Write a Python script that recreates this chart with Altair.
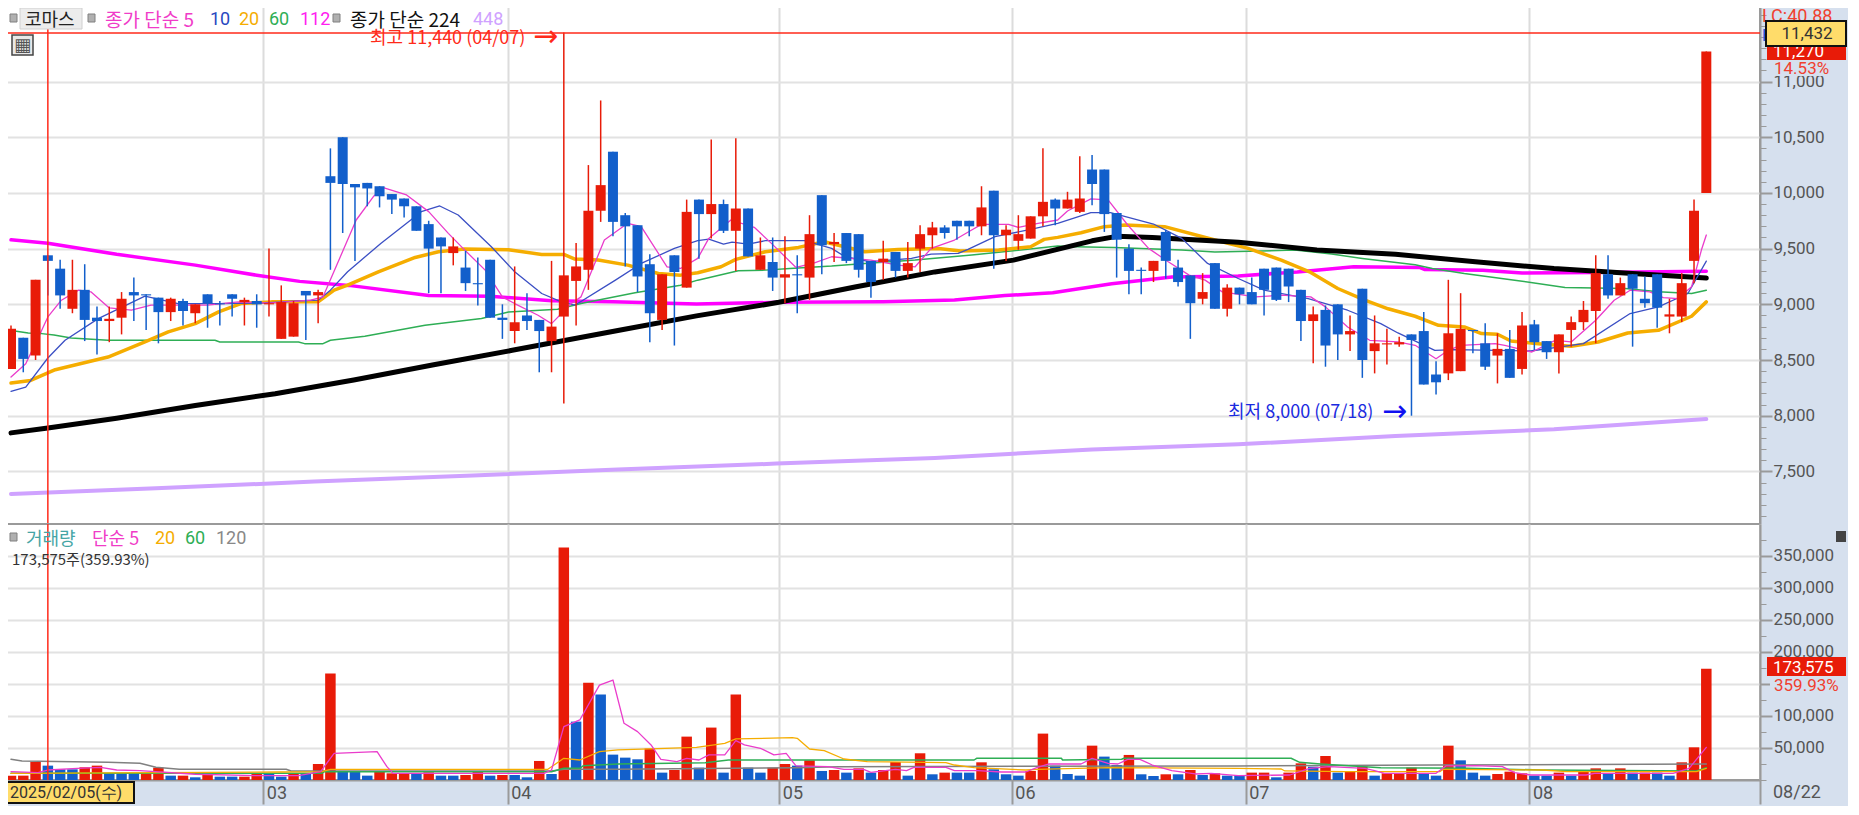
import altair as alt
import pandas as pd

opens = [8420,8700,8540,9440,9320,8960,9130,8880,8850,8880,9110,9090,9060,8930,9030,8920,9090,9010,9090,9020,9030,9000,8690,8710,9120,9080,
10150,10500,10080,10090,10060,9990,9950,9880,9720,9600,9460,9330,9190,9400,8880,8760,8900,8860,8670,8890,9210,9310,9840,10370,9800,9710,9360,8860,9440,9150,
9940,9810,9900,9660,9860,9310,9380,9240,9270,9240,9980,9540,9640,9630,9390,9380,9470,9300,9500,9620,9690,9750,9750,9700,10020,9620,9570,9590,9790,9940,
9860,9830,10210,10210,9820,9500,9310,9300,9650,9330,9260,9050,9370,8960,9150,9110,9320,9330,9320,9130,8850,8950,9000,8730,9140,8580,8640,8640,
8730,8760,8370,8380,8400,8770,8650,8540,8600,8420,8820,8670,8570,8770,8840,8940,9270,9080,9270,9050,9270,8890,8890,9390,10000]
closes = [8780,8510,9220,9390,9080,9130,8860,8850,8870,9050,9080,9080,8930,9050,8940,9000,9010,9000,9050,9040,9000,9010,9020,9010,9080,9110,
10090,10080,10050,10040,9970,9940,9880,9660,9500,9520,9520,9190,9180,8880,8860,8840,8850,8760,8800,9260,9340,9840,10070,9740,9700,9250,8920,9270,9290,9830,
9810,9900,9660,9860,9430,9440,9240,9270,9260,9630,9530,9560,9390,9310,9200,9410,9300,9370,9630,9690,9640,9700,9700,9870,9620,9670,9630,9790,9920,9860,
9940,9950,10080,9810,9580,9300,9300,9390,9390,9200,9010,9110,8960,9150,9090,9000,9130,9040,9160,8850,8910,8630,8730,8760,8500,8650,8650,8660,
8680,8280,8300,8740,8780,8760,8440,8600,8340,8810,8660,8570,8730,8840,8950,9280,9080,9190,9140,9010,8970,8910,9190,9840,11270]
highs = [8810,8700,9220,9440,9400,9400,9360,8980,8980,9110,9240,9090,9060,9060,9050,9000,9090,9030,9090,9060,9090,9500,9170,9030,9120,9130,
10400,10500,10080,10090,10060,9990,9950,9880,9750,9600,9600,9480,9420,9400,9000,9340,9100,8860,9390,11440,9550,10250,10830,10370,9820,9710,9450,9270,9440,9940,
9940,10480,9940,10490,9860,9600,9600,9610,9440,9800,9980,9640,9640,9630,9390,9570,9470,9560,9710,9740,9710,9750,9750,10060,10020,9710,9800,9790,10400,9950,
10010,10330,10340,10210,9820,9540,9330,9390,9670,9400,9260,9280,9370,9180,9150,9240,9320,9330,9320,9130,8980,8990,9000,8900,9140,8900,8780,8710,
8730,8930,8490,9220,9100,8770,8830,8740,8770,8930,8860,8670,8730,8890,9030,9440,9440,9240,9270,9250,9270,9050,9280,9940,11270]
lows = [8420,8390,8500,9080,8960,8920,8670,8550,8660,8730,8850,8770,8650,8850,8810,8830,8790,8810,8890,8810,8790,8890,8690,8710,8680,8830,
9310,9640,9390,9880,9870,9810,9780,9660,9100,9100,9350,9120,8990,8880,8690,8650,8770,8390,8390,8110,8810,9130,9740,9610,9340,9110,8660,8770,8630,9150,
9410,9590,9640,9300,9430,9310,9120,9010,8920,9040,9270,9380,9370,9240,9060,9220,9240,9240,9290,9500,9590,9580,9610,9620,9320,9390,9490,9590,9700,9710,
9860,9820,9890,9650,9240,9090,9090,9200,9230,9160,8690,9000,8960,8890,9000,9000,8900,9030,9020,8670,8470,8440,8500,8580,8340,8380,8460,8620,
8000,8280,8190,8320,8400,8560,8410,8290,8340,8370,8590,8510,8380,8620,8770,8650,9050,9080,8620,8970,8790,8740,8840,9190,10000]

volumes = [6800,6800,28100,22400,16700,16700,19800,22400,10400,10400,10400,10400,19300,6800,6800,4200,9400,5200,5200,5200,9400,9400,5200,9400,9400,25000,166100,13000,13000,6800,13000,10400,10400,9400,12000,6800,6800,7800,13000,6800,7800,7800,4200,29700,9400,363000,91100,151600,133300,39600,
34900,32300,49000,11500,15600,67700,19300,81800,11500,133300,19300,11500,19300,25000,22400,30700,14100,15600,11500,18200,11500,15600,28100,6800,41700,8900,11500,11500,11500,27600,16700,8900,6800,14100,72400,22400,9400,6800,53600,36500,23400,39100,8900,6200,8900,8900,15600,7800,10400,6800,
7800,11500,11500,4200,11500,26000,20800,37500,11500,13000,20800,6800,10400,10400,19300,9400,6800,53600,30700,11500,6800,9400,13000,10400,6800,6800,11500,6800,13000,18200,9400,18200,11500,11500,11500,6800,27600,51000,173575]
vol_colors = ["r","r","r","b","b","b","r","r","b","b","b","r","r","b","r","b","r","b","b","r","r","b","b","r","b","r","r","b","b","b","r","r","r","b","r","b","b","r","r","b","r","b","b","r","b","r","b","r","b","b",
"b","b","r","b","r","r","b","r","b","r","b","b","r","r","b","r","b","r","b","r","b","r","r","b","r","b","r","b","b","r","b","b","b","r","r","b","b","b","r","b","b","r","b","b","r","b","r","b","r","b",
"b","r","r","b","r","r","b","r","b","r","r","b","r","r","r","b","b","r","b","b","b","r","r","r","b","b","r","b","r","r","b","r","b","r","b","b","r","r","r"]

ma5_i = [0,1.2,2.5,3,4.1,5.5,6.5,8,9.8,11.4,14,16,18.5,21,24.4,25.4,28.1,29.5,30.3,32.2,34,35.6,36.8,38.6,40,41,42.9,44,45.6,46.4,48.3,50.2,51.3,53.4,54.5,55.9,56.8,58.6,60.5,61.9,63.9,65.4,66.8,70,72.2,73.6,74.9,76.8,78.2,79,81.2,82,83.6,85.2,86,87.9,89.3,90.9,92.6,94.2,95.9,97.2,98.6,101.3,103.4,105.8,107,108.8,110.6,112.9,114.3,116,117,118,120.8,121.6,123.8,125.7,127,129,130.5,131.8,133.4,134.5,135.7,136.8,137.6,138]
ma5_v = [8347,8467,8767,8887,9037,9127,9112,8968,8947,8992,8992,8992,9022,9010,9037,9067,9757,9967,10048,9982,9832,9637,9502,9307,9067,9007,8902,8827,9007,9067,9577,9727,9697,9337,9322,9412,9592,9757,9691,9547,9331,9373,9427,9397,9352,9337,9502,9577,9667,9718,9718,9691,9727,9757,9838,9946,9937,9712,9502,9382,9262,9217,9112,9067,9082,9067,8977,8797,8677,8662,8632,8512,8587,8632,8647,8632,8572,8677,8662,8857,9037,9127,9112,9061,9052,9157,9487,9622]
ma10_i = [0,1.2,3,4.4,7.1,10.9,13.6,16.9,20.7,23.4,25,26,27.4,30.1,33.4,34.9,36.4,39.1,41,43.2,44.8,45.9,49.2,51.3,54,55.9,56.8,58,58.7,60,61.4,64.6,66.8,67.9,70,73.3,74.9,77.1,77.9,80.1,83,85.2,87.9,89.5,93,95.3,97.4,99.9,102,105.6,108.8,111.5,112.9,115.9,117.5,123.7,128,131.8,134.1,136.5,138]
ma10_v = [8218,8257,8518,8677,8872,9073,9007,9007,9013,9031,9037,9127,9292,9547,9832,9883,9802,9517,9292,9097,9022,8992,9217,9367,9502,9571,9586,9541,9559,9541,9571,9571,9502,9427,9382,9412,9451,9457,9493,9607,9673,9727,9823,9823,9721,9592,9367,9232,9127,9052,8947,8827,8743,8587,8593,8581,8647,8917,8977,9097,9388]
ma20_i = [0,1.6,3.6,7.9,10.9,12.8,15,16.9,18.7,21.2,25,26.3,27.4,29.9,32.9,34.8,36.9,40.5,43.2,45,45.9,47.8,50.2,52.7,54.5,55.9,57.8,59,61.4,64.1,66.2,69.5,72.2,75.5,77.3,80.4,83,84.1,85.2,87.1,89,90.7,93.9,98,100.7,103.4,105.8,108,110.2,112.1,114.3,116.2,118.3,119.7,121,122.1,124.3,127,129.2,131.6,134.1,136.8,138]
ma20_v = [8293,8317,8413,8527,8662,8752,8827,8932,9007,9022,9022,9127,9172,9292,9421,9472,9496,9490,9448,9448,9406,9397,9352,9277,9262,9283,9337,9403,9472,9511,9562,9472,9493,9502,9478,9487,9517,9583,9601,9643,9697,9712,9697,9577,9502,9397,9286,9142,9037,8960,8893,8812,8797,8737,8731,8671,8647,8623,8662,8743,8767,8893,9022]
ma60_i = [0.3,1.4,2.5,3.5,4.9,7.9,16.6,17,23.4,23.9,25.4,26,28.8,33.7,38.3,40.5,44.5,46.4,50.8,54.5,55.9,59.2,61.4,63.4,66.8,69.5,73.6,78.2,81.4,85.2,86.6,89.8,95.3,98,104.5,107.5,110,114.3,115.7,118.3,122.4,126.5,131.4,134.1,136.8,138]
ma60_v = [8761,8743,8737,8725,8698,8677,8677,8662,8662,8647,8647,8677,8713,8812,8872,8932,8956,9007,9103,9172,9217,9301,9307,9322,9343,9367,9397,9442,9478,9523,9517,9511,9487,9469,9487,9451,9412,9355,9322,9277,9217,9151,9142,9112,9097,9127]
ma112_i = [0,3,8.6,15,20,23.5,27.5,34,39,44,49,55.8,62.5,71,76.8,80.9,84.8,89.6,94.5,99.9,104.7,109.3,114.7,115.1,119.8,123,128.8,138]
ma112_v = [9579,9549,9449,9352,9261,9206,9170,9079,9072,9033,9024,9003,9018,9024,9039,9079,9103,9185,9246,9255,9291,9337,9330,9312,9306,9282,9285,9297]
ma224_i = [0,3,8.6,15,21.5,27.9,34.3,40.8,49.4,55.8,62.5,68.7,75.2,81.6,88,90,92.9,99.9,106.3,112.7,119.2,125.6,132,138]
ma224_v = [7846,7889,7977,8092,8198,8320,8456,8587,8765,8896,9018,9155,9291,9397,9570,9610,9600,9558,9488,9449,9382,9321,9276,9236]
ma448_i = [0,11.8,24.7,37.6,49.4,62.3,75.2,88,99.9,112.7,125.6,138]
ma448_v = [7297,7348,7409,7464,7518,7570,7621,7697,7743,7819,7879,7970]

vma5_i = [0,2.2,3,5.4,7.3,8.6,10.5,15,20,23.4,25.2,26.3,29.8,30.6,31.1,43.4,44,45,46.3,47.9,49,49.9,51,52.1,52.9,54.2,55,56,56.8,58.1,59,59.7,61,62.1,63.1,63.9,66.5,67.8,69.4,70,72,72.9,73.5,76.1,76.8,78.7,80.6,82.6,83.5,84.5,87.1,88,89.3,90.1,90.9,91.9,92.9,94.5,96.4,97.7,99.9,104.1,105.7,107.3,110.2,111,111.8,116,116.8,119.2,121.4,122.4,123.7,128.2,128.9,135.3,136.6,138]
vma5_v = [13000,11500,15600,18200,19800,15600,14600,9000,6800,6800,13000,41700,44300,20800,10400,10400,15600,83300,93700,148000,156000,88500,75500,54700,32300,28600,33900,31200,39100,39100,61500,54700,49500,39100,41700,21900,20800,16700,16700,12000,16700,14600,19800,19800,14600,14600,12500,12500,19300,25000,25000,33900,26000,25000,32300,32300,23400,14600,9400,10400,6800,7800,18200,20800,18200,14600,10400,10400,21900,22400,20800,11500,7800,7800,10400,10400,18200,51000]
vma20_i = [0,22,25.3,26,43.7,45,46.3,47.9,49.4,55.8,58.1,59,63.6,64,65,66.2,67.8,69.7,76.1,76.8,78.4,82.6,83.5,89.3,99.9,103.4,103.7,108.6,116.3,116.6,124.7,126.6,137.2,138]
vma20_v = [10400,12500,13000,16700,16700,33900,31200,44300,46900,51000,57300,64100,66100,65100,48400,45800,32800,28600,27100,23400,19300,15600,16700,19300,18200,17200,14100,13000,13000,16700,15600,13000,13000,18200]
vma60_i = [0,25.3,25.5,44,45,46.3,46.6,49.4,56.5,58.4,78.4,78.6,85.5,85.6,90.4,90.6,104.2,104.9,106.6,111.5,118.5,124.7,137.2,138]
vma60_v = [10400,10400,13000,13000,18200,18200,22400,25000,27100,31200,31200,33900,33900,31200,32300,33900,33900,27600,25000,19300,18200,15600,14100,19300]
vma120_i = [0,0.9,7.9,10.5,11.8,13.7,22.4,22.8,44,45,49.4,63.9,67.4,99.9,116,138]
vma120_v = [32300,29700,27600,26000,19800,16700,16700,14100,14100,16700,16700,19300,20800,21900,23400,25000]

month_pos = [20.54,40.43,62.54,81.47,100.5,123.6,142.37]
month_lab = ["03","04","05","06","07","08",""]
price_ticks = [7500,8000,8500,9000,9500,10000,10500,11000]
price_minor = list(range(7100,11700,100))
vol_ticks = [50000,100000,150000,200000,250000,300000,350000]
vol_minor = list(range(0,400000,25000))

RED="#e81b08"; BLUE="#125fcb"; KR="Noto Sans CJK KR"; NUM="Roboto"
STRIP="#d6e0ee"; GRID="#e2e2e2"; AX="#9a9a9a"
XD=[-0.407,142.37]
xs=alt.Scale(domain=XD,nice=False,zero=False,padding=0)
W=1754; H1=518; H2=256
RIGHT=1848

n=len(opens)
cand=pd.DataFrame({"i":range(n),"o":opens,"c":closes,"h":highs,"l":lows})
cand["col"]=["r" if c>=o else "b" for o,c in zip(opens,closes)]
vol=pd.DataFrame({"i":range(n),"v":volumes,"col":vol_colors})
cs=alt.Scale(domain=["r","b"],range=[RED,BLUE])
mlabs="{"+",".join(f"'{p}':'{l}'" for p,l in zip(month_pos,month_lab))+"}"
LBL="format(datum.value,',')"

def line(ii,vv,color,w,ys):
    d=pd.DataFrame({"i":ii,"v":vv})
    return alt.Chart(d).mark_line(color=color,strokeWidth=w,strokeCap="round",strokeJoin="round").encode(
        x=alt.X("i:Q",scale=xs,axis=None),y=alt.Y("v:Q",scale=ys,axis=None))

def txt(s,x,y,color,size=17,ox=0,font=KR,align="left",weight="normal"):
    dy=2.5 if font==KR else 1.5
    return alt.Chart(pd.DataFrame({"t":[s]})).mark_text(align=align,baseline="middle",color=color,fontSize=size,font=font,fontWeight=weight,clip=False).encode(
        x=alt.value(x-8),y=alt.value(y-ox+dy),text="t:N")

def box(x1,y1,x2,y2,fill,ox=0,stroke=None,sw=0):
    kw=dict(fill=fill,clip=False)
    if stroke: kw.update(stroke=stroke,strokeWidth=sw)
    return alt.Chart(pd.DataFrame({"t":[0]})).mark_rect(**kw).encode(
        x=alt.value(x1-8),x2=alt.value(x2-8),y=alt.value(y1-ox),y2=alt.value(y2-ox))

# ---------- price panel
ys1=alt.Scale(domain=[7028,11678],nice=False,zero=False,padding=0)
OX1=8
grid_x=alt.Axis(values=month_pos[:-1],grid=True,gridColor="#dcdcdc",gridWidth=2,labels=False,ticks=False,domain=False,title=None)
major=alt.Axis(orient="right",values=price_ticks,grid=True,gridColor=GRID,gridWidth=2,tickSize=12,tickColor=AX,tickWidth=2,
    labelFontSize=17,labelFont=NUM,labelColor="#555",labelPadding=1,labelExpr=LBL,domain=True,domainColor=AX,domainWidth=2,title=None)
minor=alt.Axis(orient="right",values=price_minor,grid=False,tickSize=6,tickColor=AX,tickWidth=1,labels=False,domain=False,title=None)

axis_layer=alt.Chart(cand).mark_point(opacity=0).encode(x=alt.X("i:Q",scale=xs,axis=grid_x),y=alt.Y("c:Q",scale=ys1,axis=major))
minor_layer=alt.Chart(cand).mark_point(opacity=0).encode(x=alt.X("i:Q",scale=xs,axis=None),y=alt.Y("c:Q",scale=ys1,axis=minor))
wick=alt.Chart(cand).mark_rule(strokeWidth=1.5).encode(x=alt.X("i:Q",scale=xs,axis=None),y=alt.Y("l:Q",scale=ys1,axis=None),y2="h:Q",
    color=alt.Color("col:N",scale=cs,legend=None))
body=alt.Chart(cand).mark_bar(size=10).encode(x=alt.X("i:Q",scale=xs,axis=None),y=alt.Y("o:Q",scale=ys1,axis=None),y2="c:Q",
    color=alt.Color("col:N",scale=cs,legend=None))
hi_rule=alt.Chart(pd.DataFrame({"v":[11435]})).mark_rule(color="#ff2a1a",strokeWidth=1.5).encode(y=alt.Y("v:Q",scale=ys1,axis=None))
cur1=alt.Chart(pd.DataFrame({"i":[3]})).mark_rule(color="#ff2a1a",strokeWidth=1.5).encode(x=alt.X("i:Q",scale=xs,axis=None))

upper_items=[axis_layer,minor_layer,
    line(ma448_i,ma448_v,"#cfa2ff",4,ys1),line(ma112_i,ma112_v,"#ff00ff",3.5,ys1),line(ma60_i,ma60_v,"#2eae55",1.5,ys1),
    line(ma20_i,ma20_v,"#f5ad00",3.5,ys1),line(ma224_i,ma224_v,"#000000",5,ys1),
    line(ma10_i,ma10_v,"#3b4fc4",1.3,ys1),line(ma5_i,ma5_v,"#ea3ccb",1.3,ys1),wick,body,hi_rule,cur1]
sq=lambda x,ox,y: box(x,y-4,x+7,y+4,"#b0b0b0",ox,"#808080",1)
upper_items+=[
    sq(12,OX1,20),box(22,10,84,31,"#ececec",OX1,"#d0d0d0",1),txt("코마스",27,20,"#222",18,OX1),sq(90,OX1,20),
    txt("종가 단순 5",107,20,"#f03cc8",19,OX1),txt("10",212,20,"#2848c0",18,OX1,NUM),txt("20",241,20,"#f5ad00",18,OX1,NUM),
    txt("60",271,20,"#2eae55",18,OX1,NUM),txt("112",302,20,"#ff20f0",18,OX1,NUM),sq(335,OX1,20),
    txt("종가 단순 224",352,20,"#111",19,OX1),txt("448",475,20,"#cfa2ff",18,OX1,NUM),
    box(14,37,35,57,"#e8e8e8",OX1,"#444",1.5),txt("▦",24.5,46,"#555",18,OX1,"DejaVu Sans","center"),
    txt("최고 11,440 (04/07)",372,38,"#ff2a1a",18,OX1),txt("→",535,37,"#ff2a1a",30,OX1,"DejaVu Sans"),
    txt("최저 8,000 (07/18)",1230,412,"#1a2ae0",18,OX1),txt("→",1384,412,"#1010f0",30,OX1,"DejaVu Sans"),
    txt("LC:40.88",1764,17,"#f04030",18,OX1,NUM),txt("H",1764,36,"#2050d0",17,OX1,NUM),
    box(1769,44,RIGHT,62,RED,OX1),txt("11,270",1775,52,"#ffffff",17,OX1,NUM),
    box(1768,23,RIGHT,48,"#ffdc6a",OX1,"#111",2),txt("11,432",1809,34,"#333",17,OX1,NUM,"center"),
    box(1772,62,RIGHT,78,STRIP,OX1),txt("14.53%",1776,69,"#f04030",17,OX1,NUM),
]
upper=alt.layer(*upper_items).resolve_axis(x="independent",y="independent").properties(width=W,height=H1)

# ---------- volume panel
ys2=alt.Scale(domain=[0,399500],nice=False,zero=True,padding=0)
OX2=526
x_axis=alt.Axis(values=month_pos,grid=True,gridColor="#dcdcdc",gridWidth=2,labelExpr=f"{mlabs}[datum.value]",labelFont=NUM,labelFontSize=18,labelColor="#555",
    labelAlign="left",labelBaseline="top",labelOffset=3,labelPadding=-20,labelOverlap=False,labelFlush=False,labelBound=False,tickSize=24,tickColor=AX,tickWidth=2,domainColor=AX,domainWidth=2,title=None)
vmajor=alt.Axis(orient="right",values=vol_ticks,grid=True,gridColor=GRID,gridWidth=2,tickSize=12,tickColor=AX,tickWidth=2,
    labelFontSize=17,labelFont=NUM,labelColor="#555",labelPadding=1,labelExpr=LBL,domain=True,domainColor=AX,domainWidth=2,title=None)
vminor=alt.Axis(orient="right",values=vol_minor,grid=False,tickSize=6,tickColor=AX,tickWidth=1,labels=False,domain=False,title=None)
vaxis=alt.Chart(vol).mark_point(opacity=0).encode(x=alt.X("i:Q",scale=xs,axis=x_axis),y=alt.Y("v:Q",scale=ys2,axis=vmajor))
vminor_l=alt.Chart(vol).mark_point(opacity=0).encode(x=alt.X("i:Q",scale=xs,axis=None),y=alt.Y("v:Q",scale=ys2,axis=vminor))
vbars=alt.Chart(vol).mark_bar(size=10.5).encode(x=alt.X("i:Q",scale=xs,axis=None),y=alt.Y("v:Q",scale=ys2,axis=None),
    color=alt.Color("col:N",scale=cs,legend=None))
cur2=alt.Chart(pd.DataFrame({"i":[3]})).mark_rule(color="#ff2a1a",strokeWidth=1.5).encode(x=alt.X("i:Q",scale=xs,axis=None))
lower_items=[vaxis,vminor_l,vbars,
    line(vma120_i,vma120_v,"#808080",1.5,ys2),line(vma60_i,vma60_v,"#2eae55",1.5,ys2),line(vma20_i,vma20_v,"#f5ad00",1.3,ys2),line(vma5_i,vma5_v,"#ea3ccb",1.3,ys2),cur2,
    sq(12,OX2,539),txt("거래량",28,539,"#45a5a5",18,OX2),txt("단순 5",94,539,"#f03cc8",18,OX2),txt("20",157,539,"#f5ad00",18,OX2,NUM),
    txt("60",187,539,"#2eae55",18,OX2,NUM),txt("120",218,539,"#888",18,OX2,NUM),txt("173,575주(359.93%)",14,559,"#333",15,OX2),
    box(1769,659,RIGHT,678,RED,OX2),txt("173,575",1775,668,"#ffffff",17,OX2,NUM),
    box(1772,678,RIGHT,694,STRIP,OX2),txt("359.93%",1776,686,"#f04030",17,OX2,NUM),
    box(1838,533,RIGHT,544,"#444",OX2),
    box(9,784,136,805,"#ffdc6a",OX2,"#111",2),txt("2025/02/05(수)",12,793,"#333",16,OX2,NUM),
    txt("08/22",1775,793,"#555",18,OX2,NUM),
]
lower=alt.layer(*lower_items).resolve_axis(x="independent",y="independent").properties(width=W,height=H2)

PAD={"left":-4,"right":0,"top":-4,"bottom":0}
chart=alt.vconcat(upper,lower,spacing=0,bounds="flush",background=STRIP).properties(padding=PAD).configure(
    padding=PAD,view=alt.ViewConfig(fill="white",stroke=AX,strokeWidth=2))
chart.save("out.html",embed_options={"renderer":"svg","actions":False})
